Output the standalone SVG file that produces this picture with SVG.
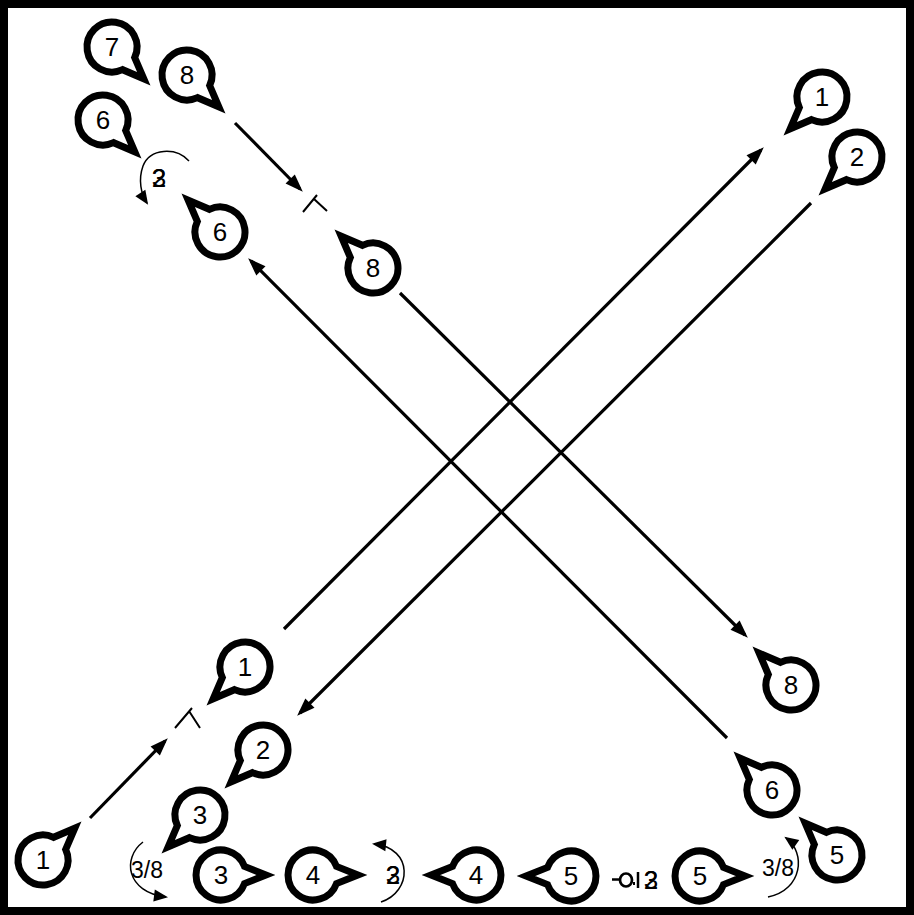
<svg xmlns="http://www.w3.org/2000/svg" xmlns:xlink="http://www.w3.org/1999/xlink" width="914" height="915" viewBox="0 0 914 915" font-family="'Liberation Sans', Arial, sans-serif" font-size="26" text-anchor="middle">
<defs>
<style>
.bub{fill:#fff;stroke:#000;stroke-width:7;stroke-linejoin:miter;stroke-miterlimit:10}
.ln{stroke:#000;stroke-width:3.2;fill:none;marker-end:url(#ah)}
.rot{stroke:#000;stroke-width:1.5;fill:none;marker-end:url(#sah)}
.tm{stroke:#000;stroke-width:2;fill:none}
</style>
<marker id="ah" markerUnits="userSpaceOnUse" viewBox="-20 -8 22 16" markerWidth="22" markerHeight="16" refX="-4" refY="0" orient="auto"><path d="M0,0 L-18,-6.5 L-18,6.5 Z" fill="#000"/></marker>
<marker id="sah" markerUnits="userSpaceOnUse" viewBox="-16 -7 18 14" markerWidth="18" markerHeight="14" refX="-2" refY="0" orient="auto"><path d="M0,0 L-14,-6 L-14,6 Z" fill="#000"/></marker>
<path id="bub" d="M23.5,8.6 A25,25 0 1 1 23.5,-8.6 L45,0 Z"/>
</defs>
<rect x="0" y="0" width="914" height="915" fill="#fff"/>
<g id="frame"><rect x="4" y="4" width="906" height="907" fill="none" stroke="#000" stroke-width="8"/></g>
<g id="connectors">
<path class="ln" d="M235,123 L300,189"/>
<path class="ln" d="M727,738 L251,261"/>
<path class="ln" d="M400,293 L745,635"/>
<path class="ln" d="M90,818 L165,741"/>
<path class="ln" d="M284,629 L761,150"/>
<path class="ln" d="M811,203 L300,713"/>
<path class="tm" d="M303,212 L317,195 M314,199 L327,211"/>
<path class="tm" d="M175,728 L192,708 M189,711 L200,728"/>
<path class="rot" d="M189,161 C176,147 150,148 143,166 C138,180 141,194 147,203"/>
<path class="rot" d="M143,842 C122,858 126,892 166,897"/>
<path class="rot" d="M381,902 C412,892 414,848 374,844"/>
<path class="rot" d="M768,897 C803,890 806,852 786,838"/>
</g>
<g id="rot-top"><text x="159" y="187">3</text><text x="159" y="187">2</text></g>
<g id="rot-mid"><text x="393" y="884">3</text><text x="393" y="884">2</text></g>
<g id="rot-left"><text x="147" y="878" font-size="23">3/8</text></g>
<g id="rot-right"><text x="778" y="876" font-size="23">3/8</text></g>
<g id="sym">
<path d="M612,879.5 L619,879.5" stroke="#000" stroke-width="2.5"/>
<ellipse cx="626" cy="880" rx="6" ry="6.5" fill="none" stroke="#000" stroke-width="2.7"/>
<rect x="633" y="882" width="2" height="3" fill="#000"/>
<path d="M638,872 L638,888" stroke="#000" stroke-width="2.5"/>
<text x="651" y="889">3</text><text x="651" y="889">2</text>
</g>
<g id="n7" transform="translate(112,47)"><use xlink:href="#bub" class="bub" transform="rotate(45)"/><text y="9.3">7</text></g>
<g id="n8a" transform="translate(187,75)"><use xlink:href="#bub" class="bub" transform="rotate(45)"/><text y="9.3">8</text></g>
<g id="n6a" transform="translate(103,120)"><use xlink:href="#bub" class="bub" transform="rotate(45)"/><text y="9.3">6</text></g>
<g id="n6b" transform="translate(220,232)"><use xlink:href="#bub" class="bub" transform="rotate(-135)"/><text y="9.3">6</text></g>
<g id="n8b" transform="translate(373,268)"><use xlink:href="#bub" class="bub" transform="rotate(-135)"/><text y="9.3">8</text></g>
<g id="n1a" transform="translate(822,97)"><use xlink:href="#bub" class="bub" transform="rotate(135)"/><text y="9.3">1</text></g>
<g id="n2a" transform="translate(857,157)"><use xlink:href="#bub" class="bub" transform="rotate(135)"/><text y="9.3">2</text></g>
<g id="n8c" transform="translate(791,685)"><use xlink:href="#bub" class="bub" transform="rotate(-135)"/><text y="9.3">8</text></g>
<g id="n6c" transform="translate(772,790)"><use xlink:href="#bub" class="bub" transform="rotate(-135)"/><text y="9.3">6</text></g>
<g id="n5c" transform="translate(837,855)"><use xlink:href="#bub" class="bub" transform="rotate(-135)"/><text y="9.3">5</text></g>
<g id="n1b" transform="translate(43,860)"><use xlink:href="#bub" class="bub" transform="rotate(-45)"/><text y="9.3">1</text></g>
<g id="n1c" transform="translate(245,667)"><use xlink:href="#bub" class="bub" transform="rotate(135)"/><text y="9.3">1</text></g>
<g id="n2b" transform="translate(263,750)"><use xlink:href="#bub" class="bub" transform="rotate(135)"/><text y="9.3">2</text></g>
<g id="n3a" transform="translate(200,815)"><use xlink:href="#bub" class="bub" transform="rotate(135)"/><text y="9.3">3</text></g>
<g id="n3b" transform="translate(221,875)"><use xlink:href="#bub" class="bub"/><text y="9.3">3</text></g>
<g id="n4a" transform="translate(313,875)"><use xlink:href="#bub" class="bub"/><text y="9.3">4</text></g>
<g id="n4b" transform="translate(476,875)"><use xlink:href="#bub" class="bub" transform="rotate(180)"/><text y="9.3">4</text></g>
<g id="n5a" transform="translate(571,876)"><use xlink:href="#bub" class="bub" transform="rotate(180)"/><text y="9.3">5</text></g>
<g id="n5b" transform="translate(700,876)"><use xlink:href="#bub" class="bub"/><text y="9.3">5</text></g>
</svg>
